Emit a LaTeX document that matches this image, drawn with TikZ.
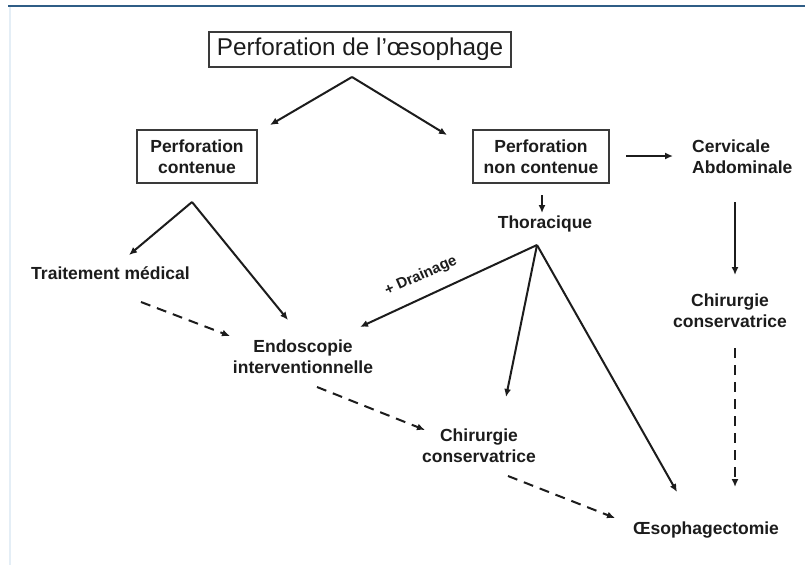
\documentclass[tikz,border=0pt]{standalone}
\usepackage{fontspec}
\setmainfont{Liberation Sans}
\usetikzlibrary{arrows.meta}

\definecolor{frameblue}{HTML}{2F5D86}
\definecolor{framelight}{HTML}{E4EEF6}
\definecolor{boxgray}{HTML}{3A3A3A}
\definecolor{ink}{HTML}{1C1C1C}

\tikzset{
  lbl/.style={text=ink, inner sep=0pt, align=center,
    font=\bfseries\fontsize{17.5}{21}\selectfont},
  boxed/.style={lbl, draw=boxgray, line width=1.4pt},
  flow/.style={draw=ink, line width=2pt, -{Latex[length=8pt,width=7pt]}},
  dflow/.style={flow, dash pattern=on 10pt off 7pt},
}

\begin{document}
\begin{tikzpicture}[x=1pt,y=-1pt]
\useasboundingbox (0,0) rectangle (805,565);
\fill[white] (0,0) rectangle (805,565);

% page frame
\draw[framelight, line width=2pt] (10,7) -- (10,565);
\draw[frameblue, line width=2pt] (8,6) -- (805,6);

% nodes
\node[boxed, minimum width=302pt, minimum height=35pt,
      font=\fontsize{24.3}{29}\selectfont] (title) at (360,49.5)
      {Perforation de l’œsophage};
\node[boxed, minimum width=120pt, minimum height=53pt] (pc) at (197,156.5)
      {Perforation\\contenue};
\node[boxed, minimum width=136pt, minimum height=53pt] (pnc) at (541,156.5)
      {Perforation\\non contenue};
\node[lbl, align=left, anchor=west] (cerv) at (692,157)
      {Cervicale\\Abdominale};
\node[lbl] (thor) at (545,224) {Thoracique};
\node[lbl] (trait) at (110.5,273) {Traitement médical};
\node[lbl] (endo) at (303,356.5) {Endoscopie\\interventionnelle};
\node[lbl] (chirA) at (479,446) {Chirurgie\\conservatrice};
\node[lbl] (chirB) at (730,311) {Chirurgie\\conservatrice};
\node[lbl] (oeso) at (706,530) {Œsophagectomie};

% branching points and arrow ends
\coordinate (splitTitle) at (352,77);
\coordinate (toPc) at (270,125);
\coordinate (toPnc) at (447,135);
\coordinate (splitPc) at (192,202);
\coordinate (toTrait) at (129,255);
\coordinate (toEndoA) at (288,320);
\coordinate (splitThor) at (537,245);
\coordinate (toEndoB) at (360,327);
\coordinate (toChirA) at (506,397);
\coordinate (toOesoA) at (677,492);

\coordinate (pncOut) at (626,156);
\coordinate (toCerv) at (673,156);
\coordinate (pncDown) at (542,195);
\coordinate (toThor) at (542,213);
\coordinate (cervDown) at (735,202);
\coordinate (toChirB) at (735,275);

\coordinate (traitOut) at (141,302);
\coordinate (toEndoC) at (230,336);
\coordinate (endoOut) at (317,387);
\coordinate (toChirC) at (425,430);
\coordinate (chirAOut) at (508,476);
\coordinate (toOesoB) at (615,518);
\coordinate (chirBOut) at (735,348);
\coordinate (toOesoC) at (735,487);

% solid arrows
\draw[flow] (splitTitle) -- (toPc);
\draw[flow] (splitTitle) -- (toPnc);
\draw[flow] (splitPc) -- (toTrait);
\draw[flow] (splitPc) -- (toEndoA);
\draw[flow] (pncOut) -- (toCerv);
\draw[flow, line width=1.6pt] (pncDown) -- (toThor);
\draw[flow] (splitThor) -- (toEndoB);
\draw[flow] (splitThor) -- (toChirA);
\draw[flow] (splitThor) -- (toOesoA);
\draw[flow, line width=1.6pt] (cervDown) -- (toChirB);

% dashed arrows
\draw[dflow] (traitOut) -- (toEndoC);
\draw[dflow] (endoOut) -- (toChirC);
\draw[dflow] (chirAOut) -- (toOesoB);
\draw[dflow] (chirBOut) -- (toOesoC);

% label on the drainage branch
\node[lbl, font=\bfseries\fontsize{15}{18}\selectfont, rotate=24]
  (drain) at (421,276) {+ Drainage};
\end{tikzpicture}
\end{document}
